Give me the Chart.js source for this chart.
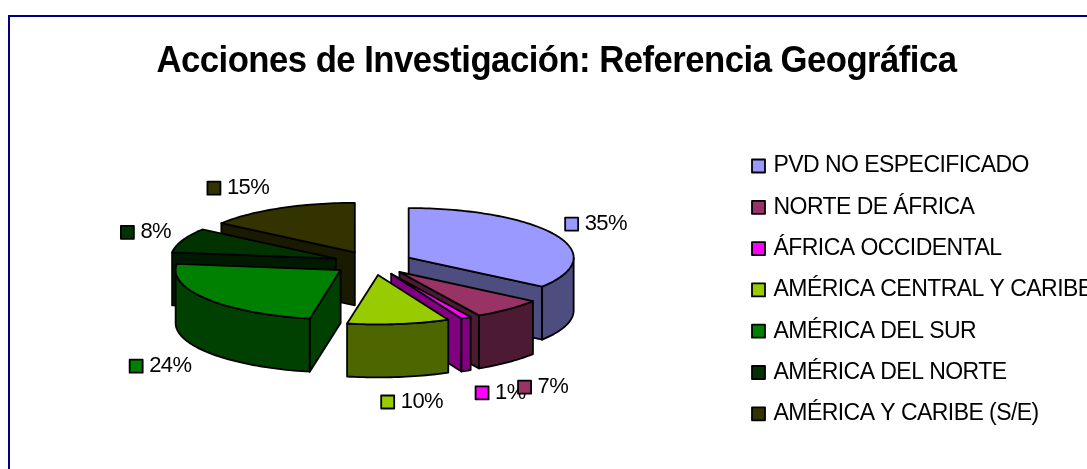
<!DOCTYPE html>
<html>
<head>
<meta charset="utf-8">
<script src="https://cdn.jsdelivr.net/npm/chart.js@4"></script>
<style>html,body{margin:0;padding:0;background:#fff;overflow:hidden}canvas{display:block}</style>
</head>
<body>
<canvas id="c" width="1087" height="469"></canvas>
<script>
const titleText = 'Acciones de Investigación: Referencia Geográfica';
const categories = ['PVD NO ESPECIFICADO','NORTE DE ÁFRICA','ÁFRICA OCCIDENTAL','AMÉRICA CENTRAL Y CARIBE','AMÉRICA DEL SUR','AMÉRICA DEL NORTE','AMÉRICA Y CARIBE (S/E)'];
const values = [35,7,1,10,24,8,15];
const topColors = ['#9999FF','#993366','#FF00FF','#99CC00','#008000','#003300','#333300'];
const wallColors = ['#4D4D80','#4D1A33','#800080','#4D6600','#004000','#001A00','#1A1A00'];
const labelDeltas = [[16,-11],[16,78],[16,75],[-11,78],[-71,67],[-55,-8],[-66,-20]];

const FONT = '"Liberation Sans", Arial, sans-serif';
const RATIO = 0.3, EXPLODE = 40, DEPTH = 53, SCREEN_CY = 263, LINE = 1.8;
const LEG = {x: 752, firstCenter: 166, step: 41.3, font: 23, box: 13};
const legendPad = LEG.step - LEG.font;

function geometry(chart, el) {
  const h = (el.startAngle + el.endAngle) / 2;
  const ex = Math.cos(h) * EXPLODE, ey = Math.sin(h) * EXPLODE;
  const pt = (a, r, dz = 0) => [el.x + ex + r * Math.cos(a), SCREEN_CY + (ey + r * Math.sin(a)) * RATIO + dz];
  return {h, ex, ey, pt};
}
function poly(ctx, pts, fill) {
  ctx.beginPath();
  pts.forEach((p, i) => i ? ctx.lineTo(p[0], p[1]) : ctx.moveTo(p[0], p[1]));
  ctx.closePath();
  ctx.fillStyle = fill; ctx.fill();
  ctx.strokeStyle = '#000'; ctx.lineWidth = LINE; ctx.lineJoin = 'round'; ctx.stroke();
}
function arcPoints(g, R, a0, a1, dz) {
  const n = Math.max(2, Math.ceil(Math.abs(a1 - a0) * 40)), out = [];
  for (let i = 0; i <= n; i++) out.push(g.pt(a0 + (a1 - a0) * i / n, R, dz));
  return out;
}

const pie3d = {
  id: 'pie3d',
  beforeDraw(chart) {
    const c = chart.ctx;
    c.letterSpacing = '-0.55px';
    c.save();
    c.fillStyle = '#fff'; c.fillRect(0, 0, chart.width, chart.height);
    c.strokeStyle = '#000080'; c.lineWidth = 2;
    c.strokeRect(9, 16, chart.width + 20, chart.height + 20);
    c.restore();
  },
  afterLayout(chart) {
    const t = chart.titleBlock;
    t.left = 156.5; t.right = 956.5; t.top = 40; t.bottom = 85; t.width = 800;
    const l = chart.legend;
    l.left = LEG.x - legendPad; l.right = chart.width + 200;
    l.top = LEG.firstCenter - LEG.font / 2 - legendPad; l.bottom = chart.height + 100;
    l.width = l.right - l.left; l.height = l.bottom - l.top;
  },
  beforeDatasetDraw(chart, args) {
    const ctx = chart.ctx, arcs = args.meta.data;
    const order = arcs.map((el, i) => i).sort((a, b) =>
      Math.sin((arcs[a].startAngle + arcs[a].endAngle) / 2) - Math.sin((arcs[b].startAngle + arcs[b].endAngle) / 2));
    order.forEach(i => {
      const el = arcs[i], g = geometry(chart, el), R = el.outerRadius;
      const s = el.startAngle, e = el.endAngle, wall = wallColors[i];
      if (-Math.cos(s) > 1e-6) poly(ctx, [g.pt(s,0), g.pt(s,R), g.pt(s,R,DEPTH), g.pt(s,0,DEPTH)], wall);
      if (Math.cos(e) > 1e-6) poly(ctx, [g.pt(e,0), g.pt(e,R), g.pt(e,R,DEPTH), g.pt(e,0,DEPTH)], wall);
      const a0 = Math.max(s, 0), a1 = Math.min(e, Math.PI);
      if (a1 > a0) poly(ctx, arcPoints(g, R, a0, a1, 0).concat(arcPoints(g, R, a1, a0, DEPTH)), wall);
      // top face drawn by the library's own arc element, flattened and pulled out
      ctx.save();
      ctx.translate(0, SCREEN_CY); ctx.scale(1, RATIO); ctx.translate(g.ex, g.ey - el.y);
      el.draw(ctx, chart.chartArea);
      ctx.restore();
      poly(ctx, [g.pt(s,0)].concat(arcPoints(g, R, s, e, 0)), 'rgba(0,0,0,0)');
    });
    return false;
  },
  afterDraw(chart) {
    const ctx = chart.ctx, arcs = chart.getDatasetMeta(0).data;
    ctx.save();
    // legend swatches
    categories.forEach((_, i) => {
      const y = LEG.firstCenter + i * LEG.step - LEG.box / 2;
      ctx.fillStyle = topColors[i]; ctx.fillRect(LEG.x, y, LEG.box, LEG.box);
      ctx.strokeStyle = '#000'; ctx.lineWidth = LINE; ctx.strokeRect(LEG.x, y, LEG.box, LEG.box);
    });
    // value labels, placed from each slice's outer edge
    ctx.font = '22px ' + FONT; ctx.textBaseline = 'middle'; ctx.textAlign = 'left';
    [2,1,0,3,4,5,6].forEach(i => {
      const el = arcs[i], g = geometry(chart, el), p = g.pt(g.h, el.outerRadius);
      const x = p[0] + labelDeltas[i][0], y = p[1] + labelDeltas[i][1];
      ctx.fillStyle = '#000'; ctx.fillText(values[i] + '%', x + 13, y);
      ctx.fillStyle = topColors[i]; ctx.fillRect(x - 6.5, y - 6.5, 13, 13);
      ctx.strokeStyle = '#000'; ctx.lineWidth = LINE; ctx.strokeRect(x - 6.5, y - 6.5, 13, 13);
    });
    ctx.restore();
  }
};

new Chart(document.getElementById('c'), {
  type: 'pie',
  data: {labels: categories, datasets: [{data: values, backgroundColor: topColors, borderWidth: 0, offset: 0, radius: 165, clip: false}]},
  options: {
    responsive: false, animation: false, events: [],
    layout: {padding: {left: 0, right: 341, top: 0, bottom: 0}},
    plugins: {
      tooltip: {enabled: false},
      title: {display: true, text: titleText, color: '#000', padding: 0,
              font: {family: FONT, size: 36, weight: 'bold', lineHeight: 1.2}},
      legend: {display: true, position: 'chartArea', align: 'start',
               labels: {boxWidth: 10, boxHeight: 13, padding: legendPad, color: '#000', textAlign: 'left',
                        font: {family: FONT, size: LEG.font}}}
    }
  },
  plugins: [pie3d]
});
</script>
</body>
</html>
